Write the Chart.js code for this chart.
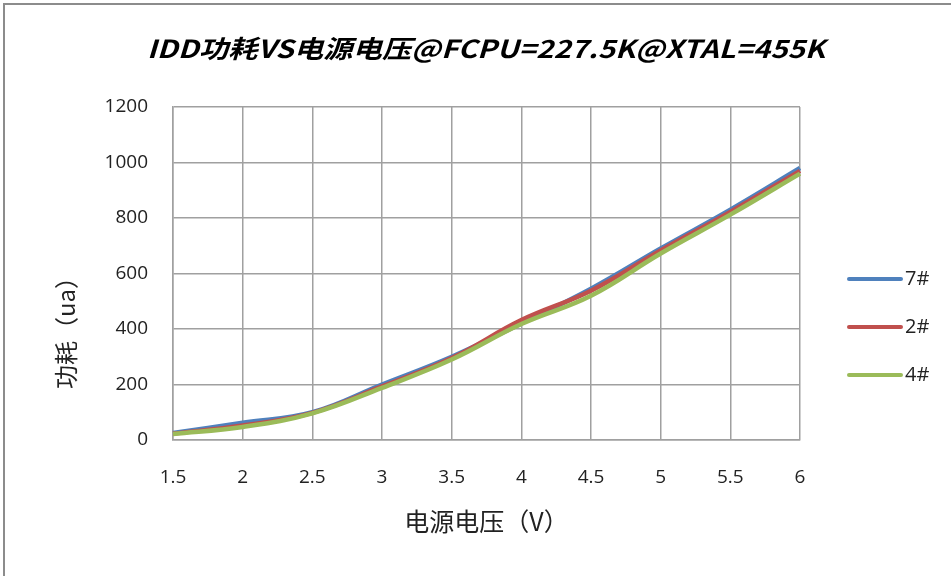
<!DOCTYPE html>
<html>
<head>
<meta charset="utf-8">
<script src="https://cdn.jsdelivr.net/npm/chart.js@4"></script>
<style>
  html, body { margin: 0; padding: 0; background: #fff; }
  #wrap { width: 951px; height: 576px; }
</style>
</head>
<body>
<div id="wrap"><canvas id="iddChart" width="951" height="576"></canvas></div>
<script>
// chart data
const voltages = ['1.5', '2', '2.5', '3', '3.5', '4', '4.5', '5', '5.5', '6'];
const chip7 = [25, 62, 100, 200, 300, 420, 545, 690, 830, 980];
const chip2 = [23, 52, 98, 193, 295, 432, 538, 683, 822, 970];
const chip4 = [22, 47, 96, 188, 290, 418, 520, 672, 812, 960];
const seriesNames = ['7#', '2#', '4#'];
const yTicks = [0, 200, 400, 600, 800, 1000, 1200];

const titleText = 'IDD功耗VS电源电压@FCPU=227.5K@XTAL=455K';
const cjk = '"Noto Sans CJK SC", "Noto Sans", sans-serif';
const latin = '"Open Sans", "Noto Sans", sans-serif';

// frame, title, y-axis title and legend drawn by hand
const extras = {
    id: 'extras',
    beforeDraw(chart) {
        const ctx = chart.ctx;
        ctx.save();
        ctx.fillStyle = '#fff';
        ctx.fillRect(0, 0, chart.width, chart.height);
        ctx.strokeStyle = '#8c8c8c';
        ctx.lineWidth = 2;
        ctx.beginPath();
        ctx.moveTo(4, chart.height);
        ctx.lineTo(4, 4);
        ctx.lineTo(chart.width, 4);
        ctx.stroke();
        ctx.restore();
    },
    afterDraw(chart) {
        const ctx = chart.ctx;

        // title, squeezed to the width it has in the original
        ctx.save();
        ctx.font = 'italic bold 25px ' + cjk;
        const w = ctx.measureText(titleText).width;
        ctx.translate(486, 48);
        ctx.scale(678 / w, 1);
        ctx.fillStyle = '#000';
        ctx.textAlign = 'center';
        ctx.textBaseline = 'middle';
        ctx.fillText(titleText, 0, 0);
        ctx.restore();

        // y axis title
        ctx.save();
        ctx.translate(66, 327);
        ctx.rotate(-Math.PI / 2);
        ctx.fillStyle = '#222';
        ctx.font = '24px ' + cjk;
        ctx.textAlign = 'center';
        ctx.textBaseline = 'middle';
        ctx.fillText('功耗（ua）', 0, 0);
        ctx.restore();

        // legend
        ctx.save();
        chart.data.datasets.forEach((ds, i) => {
            const y = 279 + i * 48;
            ctx.strokeStyle = ds.borderColor;
            ctx.lineWidth = 4;
            ctx.lineCap = 'round';
            ctx.beginPath();
            ctx.moveTo(849, y);
            ctx.lineTo(901, y);
            ctx.stroke();
            ctx.fillStyle = '#222';
            ctx.font = '20px ' + latin;
            ctx.textAlign = 'left';
            ctx.textBaseline = 'middle';
            ctx.fillText(ds.label, 905, y);
        });
        ctx.restore();
    }
};

const ctx = document.getElementById('iddChart').getContext('2d');
const iddChart = new Chart(ctx, {
    type: 'line',
    data: {
        labels: voltages,
        datasets: [
            { label: seriesNames[0], data: chip7, borderColor: '#4F81BD', order: 2 },
            { label: seriesNames[1], data: chip2, borderColor: '#C0504D', order: 1 },
            { label: seriesNames[2], data: chip4, borderColor: '#9BBB59', order: 0 }
        ].map(d => Object.assign(d, {
            borderWidth: 4.5,
            pointRadius: 0,
            tension: 0.4,
            fill: false
        }))
    },
    options: {
        responsive: false,
        animation: false,
        devicePixelRatio: 1,
        layout: { padding: { left: 4, right: 151, top: 107, bottom: 0 } },
        plugins: {
            legend: { display: false },
            tooltip: { enabled: false },
            title: { display: false }
        },
        scales: {
            x: {
                offset: false,
                grid: { color: '#a0a0a0', lineWidth: 1.5, drawTicks: false },
                border: { color: '#a0a0a0', width: 1.5 },
                ticks: {
                    color: '#222',
                    padding: 26,
                    maxRotation: 0,
                    font: { family: latin, size: 19 }
                },
                title: {
                    display: true,
                    text: '电源电压（V）',
                    color: '#222',
                    font: { family: cjk, size: 25, lineHeight: 1.2 },
                    padding: { top: 0, bottom: 40 }
                },
                afterFit(scale) { scale.height = 136; }
            },
            y: {
                min: 0,
                max: 1200,
                afterBuildTicks(scale) { scale.ticks = yTicks.map(v => ({ value: v })); },
                grid: { color: '#a0a0a0', lineWidth: 1.5, drawTicks: false },
                border: { color: '#a0a0a0', width: 1.5 },
                ticks: {
                    color: '#222',
                    padding: 25,
                    font: { family: latin, size: 19 },
                    callback: v => String(v)
                },
                afterFit(scale) { scale.width = 169; }
            }
        }
    },
    plugins: [extras]
});
</script>
</body>
</html>
